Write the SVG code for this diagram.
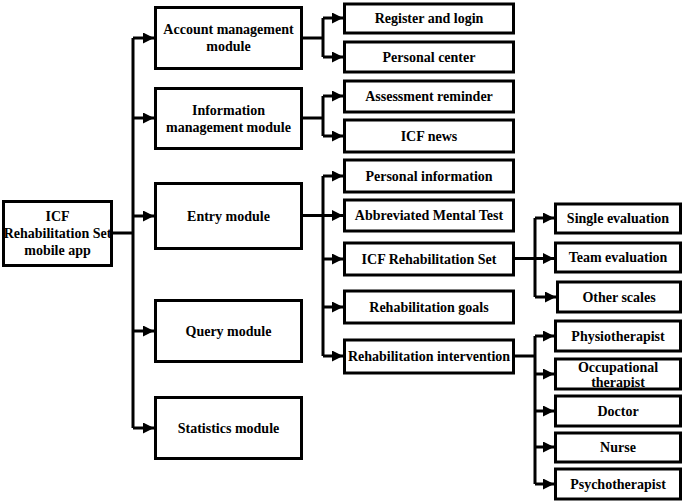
<svg xmlns="http://www.w3.org/2000/svg" width="685" height="502" viewBox="0 0 685 502">
<style>
rect{fill:#fff;stroke:#000;stroke-width:3}
text{font-family:"Liberation Serif","Times New Roman",serif;font-weight:bold;font-size:14px;fill:#000;text-anchor:middle;dominant-baseline:central}
.c path{fill:none;stroke:#000;stroke-width:3}
.c path.a{marker-end:url(#arr)}
</style>
<defs>
<marker id="arr" viewBox="0 0 10 10" refX="10" refY="5" markerWidth="11" markerHeight="11" markerUnits="userSpaceOnUse" orient="auto"><path d="M0,0 L10,5 L0,10 z" fill="#000"/></marker>
</defs>
<rect x="0" y="0" width="685" height="502" style="stroke:none"/>
<g class="c" id="connectors">
<path d="M113,233 H133 M133,38 V428"/>
<path class="a" d="M133,38 H154"/>
<path class="a" d="M133,118 H154"/>
<path class="a" d="M133,216 H154"/>
<path class="a" d="M133,331 H154"/>
<path class="a" d="M133,428 H154"/>
<path d="M303,38 H323 M323,18 V57"/>
<path class="a" d="M323,18 H343"/>
<path class="a" d="M323,57 H343"/>
<path d="M303,118 H323 M323,96 V136"/>
<path class="a" d="M323,96 H343"/>
<path class="a" d="M323,136 H343"/>
<path d="M303,215.5 H323 M323,176 V356"/>
<path class="a" d="M323,176 H343"/>
<path class="a" d="M323,215.5 H343"/>
<path class="a" d="M323,259 H343"/>
<path class="a" d="M323,307 H343"/>
<path class="a" d="M323,356 H343"/>
<path d="M515,258.5 H535 M535,218 V297"/>
<path class="a" d="M535,218 H554"/>
<path class="a" d="M535,258.5 H554"/>
<path class="a" d="M535,297 H556"/>
<path d="M515,356 H535 M535,336 V484"/>
<path class="a" d="M535,336 H554"/>
<path class="a" d="M535,374 H554"/>
<path class="a" d="M535,411 H554"/>
<path class="a" d="M535,447 H554"/>
<path class="a" d="M535,484 H554"/>
</g>
<g id="root"><rect x="3.5" y="201.5" width="108" height="64"/><text x="57.5" y="216">ICF</text><text x="57.5" y="233">Rehabilitation Set</text><text x="57.5" y="250">mobile app</text></g>
<g id="account"><rect x="155.5" y="7.5" width="146" height="61"/><text x="228.5" y="29">Account management</text><text x="228.5" y="46.5">module</text></g>
<g id="information"><rect x="155.5" y="88.5" width="146" height="60"/><text x="228.5" y="110">Information</text><text x="228.5" y="127">management module</text></g>
<g id="entry"><rect x="155.5" y="183.5" width="146" height="65"/><text x="228.5" y="216">Entry module</text></g>
<g id="query"><rect x="155.5" y="300.5" width="146" height="61"/><text x="228.5" y="331">Query module</text></g>
<g id="statistics"><rect x="155.5" y="397.5" width="146" height="61"/><text x="228.5" y="428">Statistics module</text></g>
<g id="register"><rect x="344.5" y="4" width="169" height="29"/><text x="429" y="18.5">Register and login</text></g>
<g id="personal-center"><rect x="344.5" y="42" width="169" height="30"/><text x="429" y="57">Personal center</text></g>
<g id="assessment"><rect x="344.5" y="81" width="169" height="31"/><text x="429" y="96.5">Assessment reminder</text></g>
<g id="icf-news"><rect x="344.5" y="120" width="169" height="32"/><text x="429" y="136">ICF news</text></g>
<g id="personal-info"><rect x="344.5" y="160" width="169" height="32"/><text x="429" y="176">Personal information</text></g>
<g id="amt"><rect x="344.5" y="200" width="169" height="31"/><text x="429" y="215.5">Abbreviated Mental Test</text></g>
<g id="icf-set"><rect x="344.5" y="243" width="169" height="32"/><text x="429" y="259">ICF Rehabilitation Set</text></g>
<g id="goals"><rect x="344.5" y="291" width="169" height="32"/><text x="429" y="307">Rehabilitation goals</text></g>
<g id="intervention"><rect x="344.5" y="340" width="169" height="33"/><text x="429" y="356">Rehabilitation intervention</text></g>
<g id="single"><rect x="555.5" y="204" width="125" height="29"/><text x="618" y="218.5">Single evaluation</text></g>
<g id="team"><rect x="555.5" y="243" width="125" height="29"/><text x="618" y="257.5">Team evaluation</text></g>
<g id="other"><rect x="557.5" y="282" width="123" height="30"/><text x="619" y="297">Other scales</text></g>
<g id="physio"><rect x="555.5" y="321" width="125" height="30"/><text x="618" y="336">Physiotherapist</text></g>
<g id="occupational"><rect x="555.5" y="359" width="125" height="30"/><text x="618" y="367">Occupational</text><text x="618" y="382">therapist</text></g>
<g id="doctor"><rect x="555.5" y="396" width="125" height="30"/><text x="618" y="411">Doctor</text></g>
<g id="nurse"><rect x="555.5" y="433" width="125" height="29"/><text x="618" y="447.5">Nurse</text></g>
<g id="psycho"><rect x="555.5" y="469" width="125" height="30"/><text x="618" y="484">Psychotherapist</text></g>
</svg>
